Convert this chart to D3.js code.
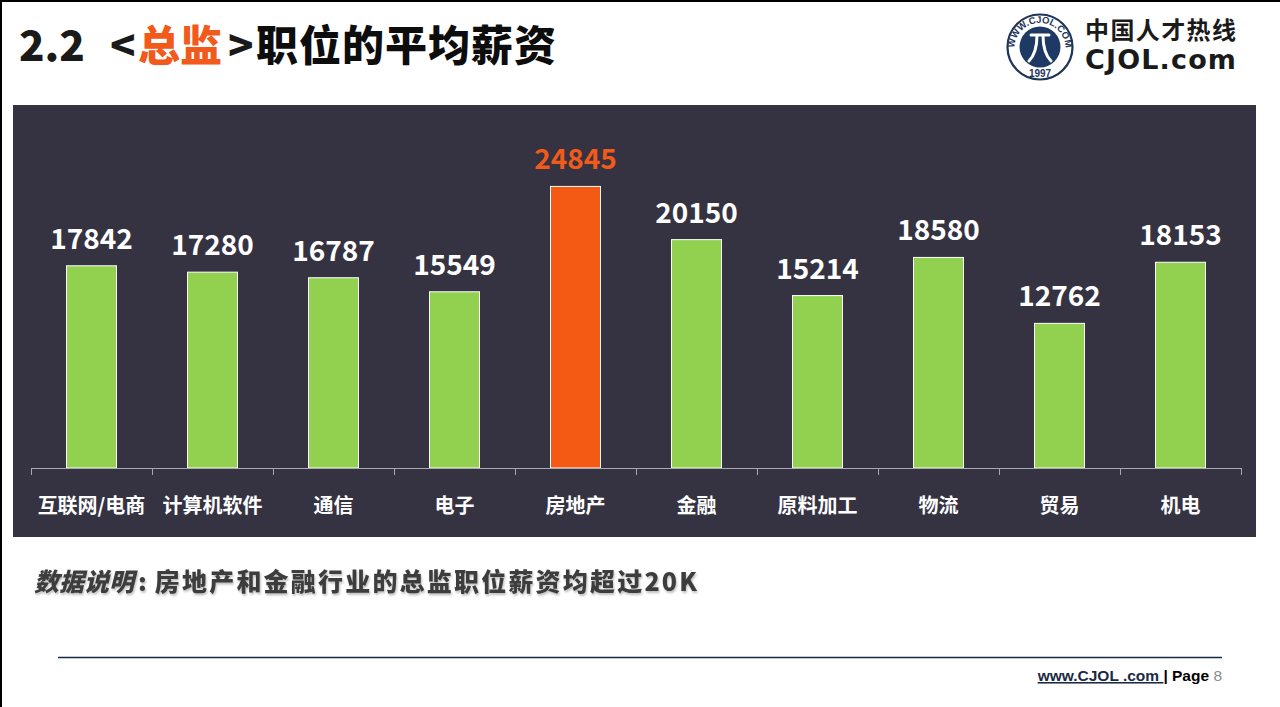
<!DOCTYPE html>
<html><head><meta charset="utf-8">
<script src="https://cdn.jsdelivr.net/npm/d3@7"></script>
<style>
html,body{margin:0;padding:0;background:#fff;}
svg{display:block;}
text{font-family:"Noto Sans CJK SC","Noto Sans",sans-serif;}
</style></head>
<body>
<svg id="chart" width="1280" height="707"></svg>
<script>
const categories = ["互联网/电商","计算机软件","通信","电子","房地产","金融","原料加工","物流","贸易","机电"];
const salaries = [17842,17280,16787,15549,24845,20150,15214,18580,12762,18153];
const highlight = ["房地产"];
const titleNumber = "2.2";
const titleRole = "总监";
const titleRest = "职位的平均薪资";
const noteLead = "数据说明";
const noteBody = "房地产和金融行业的总监职位薪资均超过20K";

const svg = d3.select("#chart");
const W = 1280, H = 707;

// page frame
svg.append("rect").attr("x",0).attr("y",0).attr("width",W).attr("height",H).attr("fill","#fff");
svg.append("line").attr("x1",1).attr("x2",1).attr("y1",0).attr("y2",H).attr("stroke","#000").attr("stroke-width",2);
svg.append("line").attr("x1",0).attr("x2",W).attr("y1",1).attr("y2",1).attr("stroke","#000").attr("stroke-width",2);

// title
const tf = `"Noto Sans CJK SC",sans-serif`;
svg.append("text").attr("x",19).attr("y",61).attr("font-size",42).attr("font-weight",900)
  .attr("fill","#1a1a1a").style("font-family",tf).text(titleNumber);
const t2 = svg.append("text").attr("y",61).attr("font-size",42).attr("font-weight",900).style("font-family",tf);
t2.append("tspan").attr("x",110).attr("fill","#1a1a1a").text("<");
t2.append("tspan").attr("x",138).attr("fill","#f15a1a").text(titleRole);
t2.append("tspan").attr("x",228).attr("fill","#1a1a1a").text(">");
t2.append("tspan").attr("x",256).attr("fill","#0d0d0d").attr("letter-spacing",1).text(titleRest);

// logo
const logo = svg.append("g").attr("transform","translate(1040,47)");
logo.append("circle").attr("r",32.5).attr("fill","#fff").attr("stroke","#1e3559").attr("stroke-width",2.2);
logo.append("circle").attr("r",20.5).attr("fill","#1e3a64");
const defs = svg.append("defs");
defs.append("path").attr("id","arcTop").attr("d","M -24 10 A 25.5 25.5 0 1 1 24 10");
logo.append("text").attr("font-size",9.5).attr("font-weight",700).attr("fill","#1e3559")
  .style("font-family","'Liberation Sans',Arial,sans-serif")
  .append("textPath").attr("href","#arcTop").attr("startOffset","50%").attr("text-anchor","middle").text("WWW.CJOL.COM");
logo.append("text").attr("x",0).attr("y",30).attr("text-anchor","middle").attr("font-size",10).attr("font-weight",700)
  .attr("fill","#1e3559").style("font-family","'Liberation Sans',Arial,sans-serif").text("1997");
logo.append("path").attr("d","M -9 -12 L 9 -12 M -3 -12 C -3 0 -5 8 -11 14 M 3 -12 C 3 0 5 8 11 14")
  .attr("fill","none").attr("stroke","#fff").attr("stroke-width",3).attr("stroke-linecap","round");
svg.append("text").attr("x",1085).attr("y",39).attr("font-size",24).attr("font-weight",700)
  .attr("fill","#1a1a1a").attr("textLength",151).style("font-family",tf).text("中国人才热线");
svg.append("text").attr("x",1085).attr("y",69).attr("font-size",27).attr("font-weight",700)
  .attr("fill","#1a1a1a").attr("textLength",151).style("font-family","'DejaVu Sans',sans-serif").text("CJOL.com");

// chart panel
svg.append("rect").attr("x",13).attr("y",105).attr("width",1243).attr("height",432).attr("fill","#353242");

const x0 = 31, x1 = 1241, baseY = 468;
const x = d3.scaleBand().domain(categories).range([x0,x1]).padding(0);
const y = d3.scaleLinear().domain([0,30000]).range([baseY,128]);
const barW = x.bandwidth()*0.413;

const g = svg.append("g");
g.selectAll("rect.bar").data(categories).join("rect").attr("class","bar")
  .attr("x",d=>x(d)+x.bandwidth()/2-barW/2)
  .attr("y",(d,i)=>y(salaries[i]))
  .attr("width",barW)
  .attr("height",(d,i)=>baseY-y(salaries[i]))
  .attr("fill",d=>highlight.includes(d)?"#f55a14":"#92d050")
  .attr("stroke","#fff").attr("stroke-width",1);

// axis: baseline and ticks at band boundaries
const boundaries = categories.map(d=>x(d)).concat([x1]);
g.append("line").attr("x1",x0).attr("x2",x1).attr("y1",baseY+0.5).attr("y2",baseY+0.5)
  .attr("stroke","#a9a9b2").attr("stroke-width",1);
g.selectAll("line.tick").data(boundaries).join("line").attr("class","tick")
  .attr("x1",d=>Math.round(d)+0.5).attr("x2",d=>Math.round(d)+0.5)
  .attr("y1",baseY).attr("y2",baseY+7).attr("stroke","#a9a9b2").attr("stroke-width",1);

// value labels
g.selectAll("text.val").data(categories).join("text").attr("class","val")
  .attr("x",d=>x(d)+x.bandwidth()/2)
  .attr("y",(d,i)=>y(salaries[i])-17)
  .attr("text-anchor","middle").attr("font-size",28).attr("font-weight",700)
  .attr("fill",d=>highlight.includes(d)?"#f05a1a":"#fff")
  .text((d,i)=>salaries[i]);

// category labels
g.selectAll("text.cat").data(categories).join("text").attr("class","cat")
  .attr("x",d=>x(d)+x.bandwidth()/2).attr("y",513)
  .attr("text-anchor","middle").attr("font-size",20).attr("font-weight",700)
  .attr("fill","#fff").text(d=>d);

// note
const note = svg.append("text").attr("x",34).attr("y",591).attr("font-size",25).attr("font-weight",900)
  .attr("fill","#3d3d3d").style("filter","drop-shadow(1px 2px 1px rgba(0,0,0,0.25))");
note.append("tspan").attr("font-style","italic").text(noteLead);
note.append("tspan").attr("dx",4).text(":");
note.append("tspan").attr("dx",8).attr("letter-spacing",2.2).text(noteBody);

// footer
svg.append("line").attr("x1",58).attr("x2",1222).attr("y1",657.5).attr("y2",657.5).attr("stroke","#1b2a44").attr("stroke-width",1.5);
const ft = svg.append("text").attr("x",1222).attr("y",681).attr("text-anchor","end")
  .style("font-family","'Liberation Sans',Arial,sans-serif").attr("font-size",15.5).attr("font-weight",700);
ft.append("tspan").attr("fill","#1b2a44").attr("text-decoration","underline").text("www.CJOL .com ");
ft.append("tspan").attr("fill","#000").text("| Page ");
ft.append("tspan").attr("fill","#8a8a8a").attr("font-weight",400).text(" 8");
</script>
</body></html>
